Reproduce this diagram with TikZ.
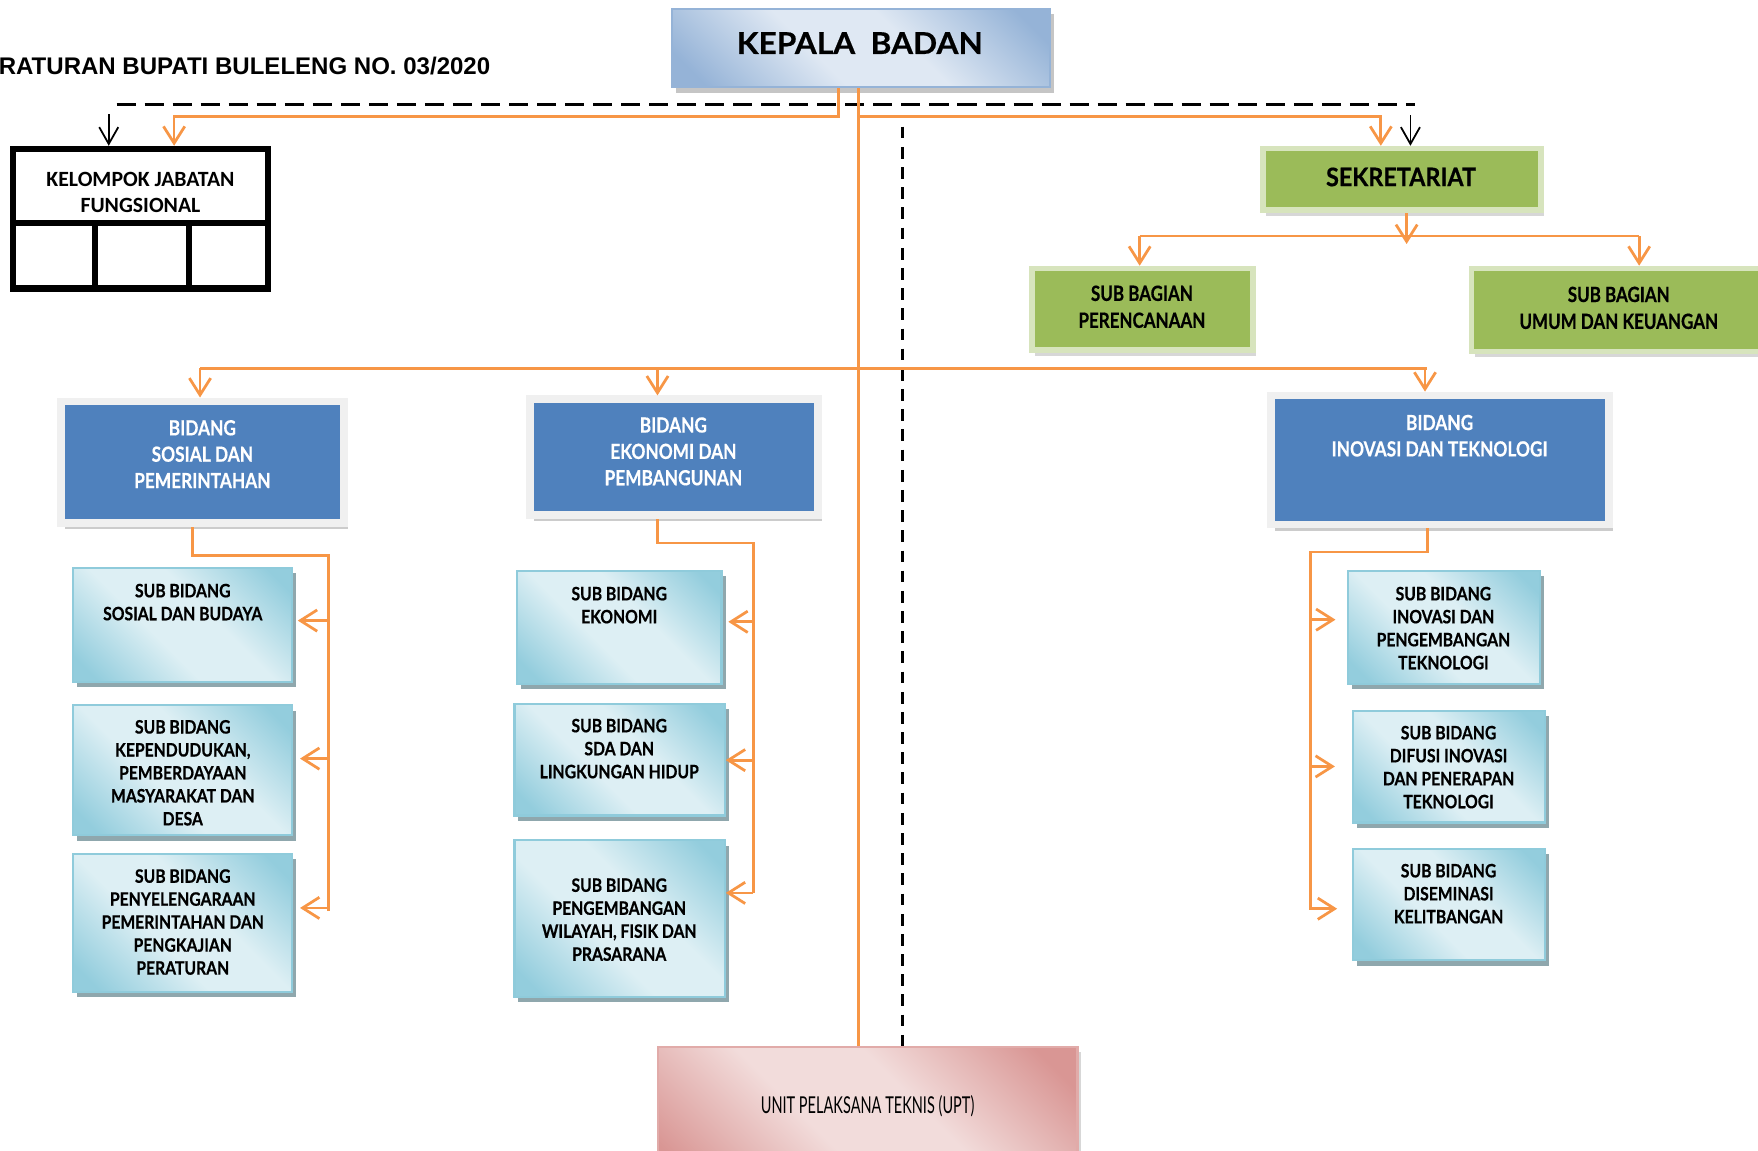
\documentclass[tikz,border=0pt]{standalone}
\usepackage{fontspec}
\setmainfont{Lato}
\newfontfamily\judulfont{Liberation Sans}
\newfontfamily\calibfont{Carlito}
\newfontfamily\kepalafont[FakeStretch=1.05,FakeBold=0.5]{Lato}
\newfontfamily\hijaufont[FakeStretch=0.915,FakeBold=0.5]{Lato}
\newfontfamily\bagianfont[FakeStretch=0.81,FakeBold=0.5]{Lato}
\newfontfamily\bidangfont[FakeStretch=0.83,FakeBold=0.4]{Lato}
\newfontfamily\subfont[FakeStretch=0.85,FakeBold=0.6]{Lato}
\newfontfamily\uptfont[FakeStretch=0.625]{Lato}
\usetikzlibrary{arrows.meta,shadows}

\definecolor{oranye}{HTML}{F79646}
\definecolor{aquagelap}{HTML}{93CDDD}
\definecolor{aquaterang}{HTML}{DDEFF4}
\definecolor{aquagaris}{HTML}{8FCBDB}
\definecolor{aquabayang}{HTML}{8FA7AD}
\definecolor{birugelap}{HTML}{95B3D7}
\definecolor{biruterang}{HTML}{DFE8F3}
\definecolor{birubidang}{HTML}{4F81BD}
\definecolor{hijau}{HTML}{9BBB59}
\definecolor{hijaumuda}{HTML}{D7E4BD}
\definecolor{merahgelap}{HTML}{D99694}
\definecolor{merahterang}{HTML}{F2DCDB}

\pgfdeclarehorizontalshading{aquashade}{100bp}{color(0bp)=(aquagelap); color(20bp)=(aquagelap); color(42bp)=(aquaterang); color(58bp)=(aquaterang); color(80bp)=(aquagelap); color(100bp)=(aquagelap)}
\pgfdeclarehorizontalshading{birushade}{100bp}{color(0bp)=(birugelap); color(20bp)=(birugelap); color(42bp)=(biruterang); color(58bp)=(biruterang); color(80bp)=(birugelap); color(100bp)=(birugelap)}
\pgfdeclarehorizontalshading{merahshade}{100bp}{color(0bp)=(merahgelap); color(20bp)=(merahgelap); color(42bp)=(merahterang); color(58bp)=(merahterang); color(80bp)=(merahgelap); color(100bp)=(merahgelap)}

\tikzset{
  kotakkepala/.style={draw=birugelap, line width=0.2mm, shade, shading=birushade, shading angle=45,
    minimum width=33.7mm, minimum height=7mm, inner sep=0pt,
    drop shadow={shadow xshift=0.4mm, shadow yshift=-0.5mm, fill=black!45, opacity=0.5}},
  kotakkjf/.style={draw=black, line width=0.55mm, fill=white, inner sep=0pt,
    minimum width=22.8mm, minimum height=12.45mm},
  kotakhijau/.style={draw=hijaumuda, line width=0.5mm, fill=hijau, inner sep=0pt,
    drop shadow={shadow xshift=0.3mm, shadow yshift=-0.5mm, fill=black!35, opacity=0.45}},
  kotakbidang/.style={draw=black!6, line width=0.7mm, fill=birubidang, inner sep=0pt,
    drop shadow={shadow xshift=0.35mm, shadow yshift=-0.55mm, fill=black!40, opacity=0.5}},
  kotaksub/.style={draw=aquagaris, line width=0.2mm, shade, shading=aquashade, shading angle=45, inner sep=0pt,
    drop shadow={shadow xshift=0.35mm, shadow yshift=-0.5mm, fill=aquabayang, opacity=1}},
  kotakupt/.style={draw=merahgelap!80, line width=0.2mm, shade, shading=merahshade, shading angle=45, inner sep=0pt,
    drop shadow={shadow xshift=0.35mm, shadow yshift=-0.4mm, fill=black!35, opacity=0.45}},
  teks/.style={anchor=north, align=center, inner sep=0pt},
  tekskepala/.style={teks, font=\kepalafont\bfseries\fontsize{7.65pt}{9pt}\selectfont},
  tekskjf/.style={teks, font=\calibfont\bfseries\fontsize{5.52pt}{6.54pt}\selectfont},
  tekssek/.style={teks, font=\hijaufont\bfseries\fontsize{6.48pt}{8pt}\selectfont},
  teksbagian/.style={teks, font=\bagianfont\bfseries\fontsize{5.32pt}{6.83pt}\selectfont},
  teksbidang/.style={teks, text=white, font=\bidangfont\bfseries\fontsize{5.29pt}{6.69pt}\selectfont},
  tekssub/.style={teks, font=\subfont\bfseries\fontsize{4.69pt}{5.83pt}\selectfont},
  garis/.style={draw=oranye, line width=0.7pt},
  panah/.style={garis, -{Straight Barb[length=1.5mm,width=1.9mm]}},
  panahhitam/.style={draw=black, line width=0.45pt, -{Straight Barb[length=1.5mm,width=1.7mm]}},
  putus/.style={draw=black, line width=0.9pt, dash pattern=on 1.7mm off 0.8mm},
  putustegak/.style={draw=black, line width=0.8pt, dash pattern=on 1.05mm off 0.75mm}
}

\begin{document}
\begin{tikzpicture}[x=0.1mm, y=-0.1mm]
  \useasboundingbox (0,0) rectangle (1568,1026);
  \clip (0,0) rectangle (1568,1026);

  % judul
  \node[anchor=base east, inner sep=0pt, font=\judulfont\bfseries\fontsize{6.1pt}{7pt}\selectfont] (judul) at (438,66) {RATURAN BUPATI BULELENG NO. 03/2020};

  % kotak-kotak
  \node[kotakkepala] (kb) at (767.7,42.7) {};
  \node[tekskepala] (kb-teks) at (766.9,28) {KEPALA~~BADAN};

  \node[kotakkjf] (kjf) at (125.25,195) {};
  \draw[line width=0.55mm] (11.25,199) -- (239.25,199);
  \draw[line width=0.55mm] (84.5,199) -- (84.5,257.25);
  \draw[line width=0.55mm] (168.5,199) -- (168.5,257.25);
  \node[tekskjf] (kjf-teks) at (125.3,153) {KELOMPOK JABATAN\\FUNGSIONAL};

  \node[kotakhijau, minimum width=24.8mm, minimum height=5.5mm] (sek) at (1250.5,160) {};
  \node[tekssek] (sek-teks) at (1249.6,148.7) {SEKRETARIAT};
  \node[kotakhijau, minimum width=19.7mm, minimum height=7.26mm] (sbp) at (1019,275.8) {};
  \node[teksbagian] (sbp-teks) at (1018.5,254) {SUB BAGIAN\\PERENCANAAN};
  \node[kotakhijau, minimum width=26.2mm, minimum height=7.4mm] (sbu) at (1443.5,276.5) {};
  \node[teksbagian] (sbu-teks) at (1443.8,255) {SUB BAGIAN\\UMUM DAN KEUANGAN};

  \node[kotakbidang, minimum width=25.3mm, minimum height=10.85mm] (bsos) at (180.6,412.3) {};
  \node[teksbidang] (bsos-teks) at (180.5,374) {BIDANG\\SOSIAL DAN\\PEMERINTAHAN};
  \node[kotakbidang, minimum width=25.7mm, minimum height=10.33mm] (beko) at (601,407.8) {};
  \node[teksbidang] (beko-teks) at (600.6,371.5) {BIDANG\\EKONOMI DAN\\PEMBANGUNAN};
  \node[kotakbidang, minimum width=30.15mm, minimum height=11.5mm] (bino) at (1284.3,410.3) {};
  \node[teksbidang] (bino-teks) at (1284,369.3) {BIDANG\\INOVASI DAN TEKNOLOGI};

  \node[kotaksub, minimum width=19.56mm, minimum height=10.16mm] (sb1) at (162.8,557.2) {};
  \node[tekssub] (sb1-teks) at (163,520) {SUB BIDANG\\SOSIAL DAN BUDAYA};
  \node[kotaksub, minimum width=19.56mm, minimum height=11.57mm] (sb2) at (162.8,686.9) {};
  \node[tekssub] (sb2-teks) at (163,641.5) {SUB BIDANG\\KEPENDUDUKAN,\\PEMBERDAYAAN\\MASYARAKAT DAN\\DESA};
  \node[kotaksub, minimum width=19.56mm, minimum height=12.31mm] (sb3) at (162.8,823) {};
  \node[tekssub] (sb3-teks) at (163,774.6) {SUB BIDANG\\PENYELENGARAAN\\PEMERINTAHAN DAN\\PENGKAJIAN\\PERATURAN};

  \node[kotaksub, minimum width=18.26mm, minimum height=10.08mm] (sb4) at (552.3,559.4) {};
  \node[tekssub] (sb4-teks) at (552.3,522.7) {SUB BIDANG\\EKONOMI};
  \node[kotaksub, minimum width=18.75mm, minimum height=9.97mm] (sb5) at (552.6,677.6) {};
  \node[tekssub] (sb5-teks) at (552.3,640.4) {SUB BIDANG\\SDA DAN\\LINGKUNGAN HIDUP};
  \node[kotaksub, minimum width=18.75mm, minimum height=13.96mm] (sb6) at (552.6,819.2) {};
  \node[tekssub] (sb6-teks) at (552.3,782.7) {SUB BIDANG\\PENGEMBANGAN\\WILAYAH, FISIK DAN\\PRASARANA};

  \node[kotaksub, minimum width=17.11mm, minimum height=10.08mm] (sb7) at (1287.7,559.4) {};
  \node[tekssub] (sb7-teks) at (1287.4,522.7) {SUB BIDANG\\INOVASI DAN\\PENGEMBANGAN\\TEKNOLOGI};
  \node[kotaksub, minimum width=17.13mm, minimum height=9.96mm] (sb8) at (1292.3,683.8) {};
  \node[tekssub] (sb8-teks) at (1292,646.7) {SUB BIDANG\\DIFUSI INOVASI\\DAN PENERAPAN\\TEKNOLOGI};
  \node[kotaksub, minimum width=17.13mm, minimum height=9.94mm] (sb9) at (1292.3,806.8) {};
  \node[tekssub] (sb9-teks) at (1292,769.8) {SUB BIDANG\\DISEMINASI\\KELITBANGAN};

  \node[kotakupt, minimum width=37.4mm, minimum height=12.5mm] (upt) at (774,996.5) {};
  \node[anchor=base, inner sep=0pt, font=\uptfont\fontsize{5.9pt}{7pt}\selectfont] (upt-teks) at (773.8,993) {UNIT PELAKSANA TEKNIS (UPT)};

  % garis putus-putus (koordinasi)
  \coordinate (dl) at (104,93);
  \coordinate (dr) at (1262,93);
  \coordinate (vd) at (805,113);
  \draw[putus] (dl) -- (dr);
  \draw[putustegak] (vd) -- (vd |- upt.north);
  \coordinate (kjfhitam) at (97,101.7);
  \coordinate (sekhitam) at (1258,102.6);
  \draw[panahhitam] (kjfhitam) -- (kjfhitam |- kjf.north);
  \draw[panahhitam] (sekhitam) -- (sekhitam |- sek.north);

  % garis komando
  \coordinate (kjfin) at (155.3,104);
  \coordinate (sekin) at (1231.6,104);
  \draw[panah] ([xshift=-2mm]kb.south) |- (kjfin) -- (kjfin |- kjf.north);
  \draw[garis] ([xshift=-0.2mm]kb.south) -- ([xshift=-0.2mm]kb.south |- upt.north);
  \draw[panah] ([xshift=-0.2mm]kb.south |- sekin) -- (sekin) -- (sekin |- sek.north);

  \coordinate (sl) at (1016.5,210.5);
  \coordinate (sr) at (1462,210.5);
  \coordinate (sektip) at (1254.6,217.6);
  \draw[garis] (sl) -- (sr);
  \draw[panah] (sektip |- sek.south) -- (sektip);
  \draw[panah] (sl) -- (sl |- sbp.north);
  \draw[panah] (sr) -- (sr |- sbu.north);

  \coordinate (bl) at (178.4,328.6);
  \coordinate (bm) at (586.4,328.6);
  \coordinate (bi) at (1271,328.6);
  \coordinate (br) at (1272.6,328.6);
  \draw[garis] (bl) -- (br);
  \draw[panah] (bl) -- (bl |- bsos.north);
  \draw[panah] (bm) -- (bm |- beko.north);
  \draw[panah] (bi) -- (bi |- bino.north);

  % cabang bidang sosial
  \coordinate (lt) at (171.9,470);
  \coordinate (ls0) at (292.9,495.4);
  \coordinate (ls3) at (292.9,812.3);
  \coordinate (la1) at (292.9,553.5);
  \coordinate (la2) at (292.9,676.6);
  \coordinate (la3) at (292.9,809.8);
  \draw[garis] (lt |- bsos.south) |- (ls0) -- (ls3);
  \draw[panah, shorten >=0.4mm] (la1) -- (la1 -| sb1.east);
  \draw[panah, shorten >=0.6mm] (la2) -- (la2 -| sb2.east);
  \draw[panah, shorten >=0.6mm] (la3) -- (la3 -| sb3.east);

  % cabang bidang ekonomi
  \coordinate (mt) at (586.6,463);
  \coordinate (ms0) at (672,484.4);
  \coordinate (ms3) at (672,796.4);
  \coordinate (ma1) at (672,554.6);
  \coordinate (ma2) at (672,678);
  \draw[garis] (mt |- beko.south) |- (ms0) -- (ms3);
  \draw[panah, shorten >=0.5mm] (ma1) -- (ma1 -| sb4.east);
  \draw[panah] (ma2) -- (ma2 -| sb5.east);
  \draw[panah] (ms3) -- (ms3 -| sb6.east);

  % cabang bidang inovasi
  \coordinate (rt) at (1273.2,471);
  \coordinate (rs0) at (1169.1,492.4);
  \coordinate (rs3) at (1169.1,811.2);
  \coordinate (ra1) at (1169.1,552.7);
  \coordinate (ra2) at (1169.1,683.6);
  \coordinate (ra3) at (1169.1,810.5);
  \draw[garis] (rt |- bino.south) |- (rs0) -- (rs3);
  \draw[panah, shorten >=1mm] (ra1) -- (ra1 -| sb7.west);
  \draw[panah, shorten >=1.5mm] (ra2) -- (ra2 -| sb8.west);
  \draw[panah, shorten >=1.3mm] (ra3) -- (ra3 -| sb9.west);
\end{tikzpicture}
\end{document}
